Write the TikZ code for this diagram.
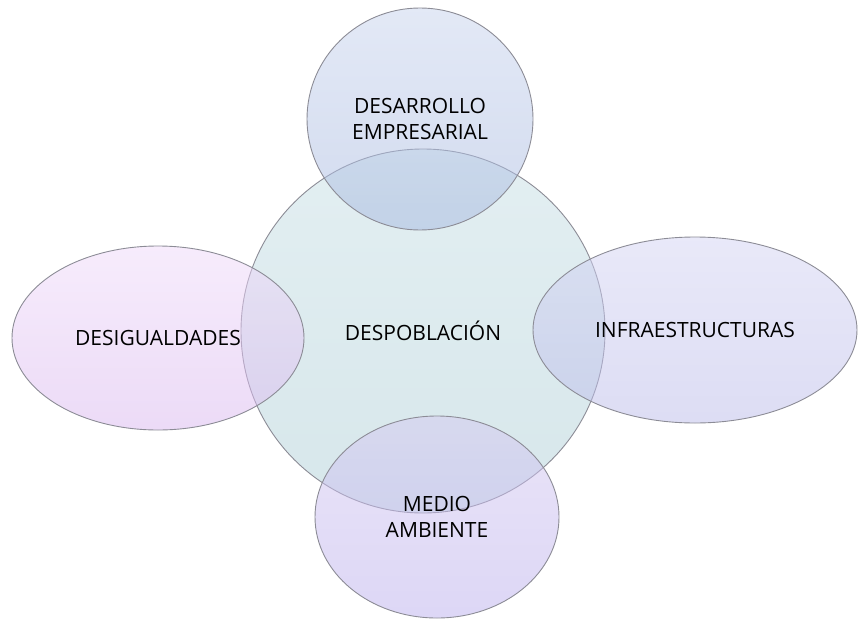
\documentclass[tikz,border=0pt]{standalone}
\usepackage{fontspec}
\setmainfont{Open Sans}
\usetikzlibrary{shapes.geometric}
\definecolor{cenT}{RGB}{199,223,229}
\definecolor{cenB}{RGB}{175,207,215}
\definecolor{topT}{RGB}{199,211,237}
\definecolor{topB}{RGB}{165,183,223}
\definecolor{lefT}{RGB}{239,217,249}
\definecolor{lefB}{RGB}{217,183,239}
\definecolor{rigT}{RGB}{211,211,243}
\definecolor{rigB}{RGB}{187,187,233}
\definecolor{botT}{RGB}{213,201,241}
\definecolor{botB}{RGB}{187,175,237}
\definecolor{edge}{RGB}{140,140,150}
\tikzset{
  blob/.style={ellipse, draw=edge, line width=0.9pt, inner sep=0pt,
    fill opacity=0.5, text opacity=1, align=center,
    font=\fontsize{21}{26}\selectfont},
}
\begin{document}
\begin{tikzpicture}[x=1pt,y=-1pt]
\useasboundingbox (0,0) rectangle (858,618);
\node[blob, minimum width=364pt, minimum height=364pt, top color=cenT, bottom color=cenB] (cen) at (423,331) {DESPOBLACIÓN};
\node[blob, minimum width=226pt, minimum height=222pt, top color=topT, bottom color=topB] (top) at (420,119) {DESARROLLO\\EMPRESARIAL};
\node[blob, minimum width=292pt, minimum height=184pt, top color=lefT, bottom color=lefB] (lef) at (158,338) {DESIGUALDADES};
\node[blob, minimum width=324pt, minimum height=186pt, top color=rigT, bottom color=rigB] (rig) at (695,330) {INFRAESTRUCTURAS};
\node[blob, minimum width=244pt, minimum height=202pt, top color=botT, bottom color=botB] (bot) at (437,517) {MEDIO\\AMBIENTE};
\end{tikzpicture}
\end{document}
